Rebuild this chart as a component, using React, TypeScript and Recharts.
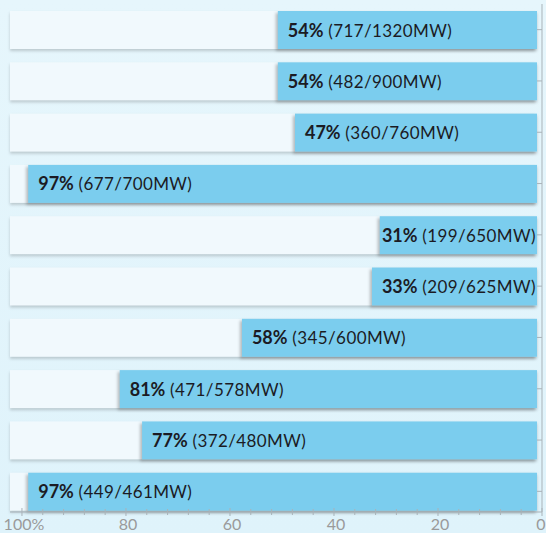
import { BarChart, Bar, XAxis, YAxis, LabelList } from "recharts";

const plants = ["P1", "P2", "P3", "P4", "P5", "P6", "P7", "P8", "P9", "P10"];
const percentLabels = [54, 54, 47, 97, 31, 33, 58, 81, 77, 97];
const generated = [717, 482, 360, 677, 199, 209, 345, 471, 372, 449];
const capacity = [1320, 900, 760, 700, 650, 625, 600, 578, 480, 461];
// bar lengths as drawn in the picture (%)
const barValues = [50.8, 50.8, 47.5, 98.8, 31.2, 32.7, 57.7, 81.2, 76.9, 98.8];
const axisTicks = [0, 4, 8, 12, 16, 20, 24, 28, 32, 36, 40, 44, 48, 52, 56, 60, 64, 68, 72, 76, 80, 84, 88, 92, 96, 100];

const data = plants.map((name, i) => ({
  name,
  value: barValues[i],
  pct: percentLabels[i],
  gen: generated[i],
  cap: capacity[i],
}));

const BLUE = "#7bcdee";
const TRACK = "#f1f9fd";
const AXIS = "#a9b3b9";
const FONT = "Lato, 'DejaVu Sans', sans-serif";

let ctx: CanvasRenderingContext2D | null = null;
function textWidth(text: string, font: string) {
  if (!ctx) ctx = document.createElement("canvas").getContext("2d");
  if (!ctx) return text.length * 9;
  ctx.font = font;
  return ctx.measureText(text).width;
}

function norm(p: any) {
  const x = Math.min(p.x, p.x + p.width);
  const w = Math.abs(p.width);
  return { x, w, y: p.y, h: p.height };
}

function BlueBar(props: any) {
  const { x, w, y, h } = norm(props);
  return (
    <rect
      x={x}
      y={y}
      width={Math.max(w - 5, 0)}
      height={h}
      fill={BLUE}
      style={{ filter: "drop-shadow(-1.5px 2px 1.5px rgba(0,0,0,0.25))" }}
    />
  );
}

function Track(props: any) {
  const { x, w, y, h } = norm(props);
  return (
    <rect
      x={x}
      y={y}
      width={w - 5}
      height={h}
      fill={TRACK}
      style={{ filter: "drop-shadow(0px 2px 1.5px rgba(0,0,0,0.18))" }}
    />
  );
}

function BarLabel(props: any) {
  const { x, w, y, h } = norm(props);
  const d = data[props.index];
  const boldTxt = `${d.pct}%`;
  const restTxt = ` (${d.gen}/${d.cap}MW)`;
  const total =
    textWidth(boldTxt, `bold 18px ${FONT}`) + textWidth(restTxt, `17px ${FONT}`) + restTxt.length * 0.4;
  const end = x + w - 6;
  let tx = x + 10;
  if (tx + total > end) tx = end - total;
  return (
    <text x={tx} y={y + h / 2 + 6.5} fontFamily={FONT} fill="#1b1b24">
      <tspan fontWeight="bold" fontSize={18}>
        {boldTxt}
      </tspan>
      <tspan fontSize={17} letterSpacing={0.4}>
        {restTxt}
      </tspan>
    </text>
  );
}

function XTick(props: any) {
  const { x, y, payload } = props;
  const major = payload.value % 20 === 0;
  const isZero = payload.value === 0;
  return (
    <g>
      <line x1={x} x2={x} y1={y - (major ? 4 : 3)} y2={y + (major ? 4 : 3)} stroke={AXIS} />
      {major && (
        <text
          x={isZero ? x + 3.5 : x + 2}
          y={y + 18}
          textAnchor={isZero ? "end" : "middle"}
          fontFamily={FONT}
          fontSize={16}
          fill="#9a9a9a"
        >
          {payload.value === 100 ? "100%" : payload.value}
        </text>
      )}
    </g>
  );
}

export default function App() {
  return (
    <div
      style={{
        position: "absolute",
        left: 0,
        top: 0,
        width: 546,
        height: 533,
        background: "linear-gradient(180deg, #e6f6fc 0%, #dff3fb 100%)",
        overflow: "hidden",
      }}
    >
      <BarChart
        width={546}
        height={533}
        data={data}
        layout="vertical"
        margin={{ top: 4, right: 4, bottom: 0, left: 10 }}
      >
        <XAxis
          type="number"
          domain={[0, 102.3]}
          reversed
          ticks={axisTicks}
          interval={0}
          tickLine={false}
          tickSize={0}
          tickMargin={0}
          tick={<XTick />}
          axisLine={{ stroke: AXIS }}
          height={21}
        />
        <YAxis
          type="category"
          dataKey="name"
          orientation="right"
          mirror
          width={10}
          padding={{ top: 0, bottom: -5 }}
          tickFormatter={() => ""}
          tickSize={5}
          tickLine={{ stroke: AXIS }}
          axisLine={{ stroke: AXIS }}
        />
        <Bar
          dataKey="value"
          barSize={38}
          shape={<BlueBar />}
          background={<Track />}
          isAnimationActive={false}
        >
          <LabelList dataKey="value" content={<BarLabel />} />
        </Bar>
      </BarChart>
    </div>
  );
}
